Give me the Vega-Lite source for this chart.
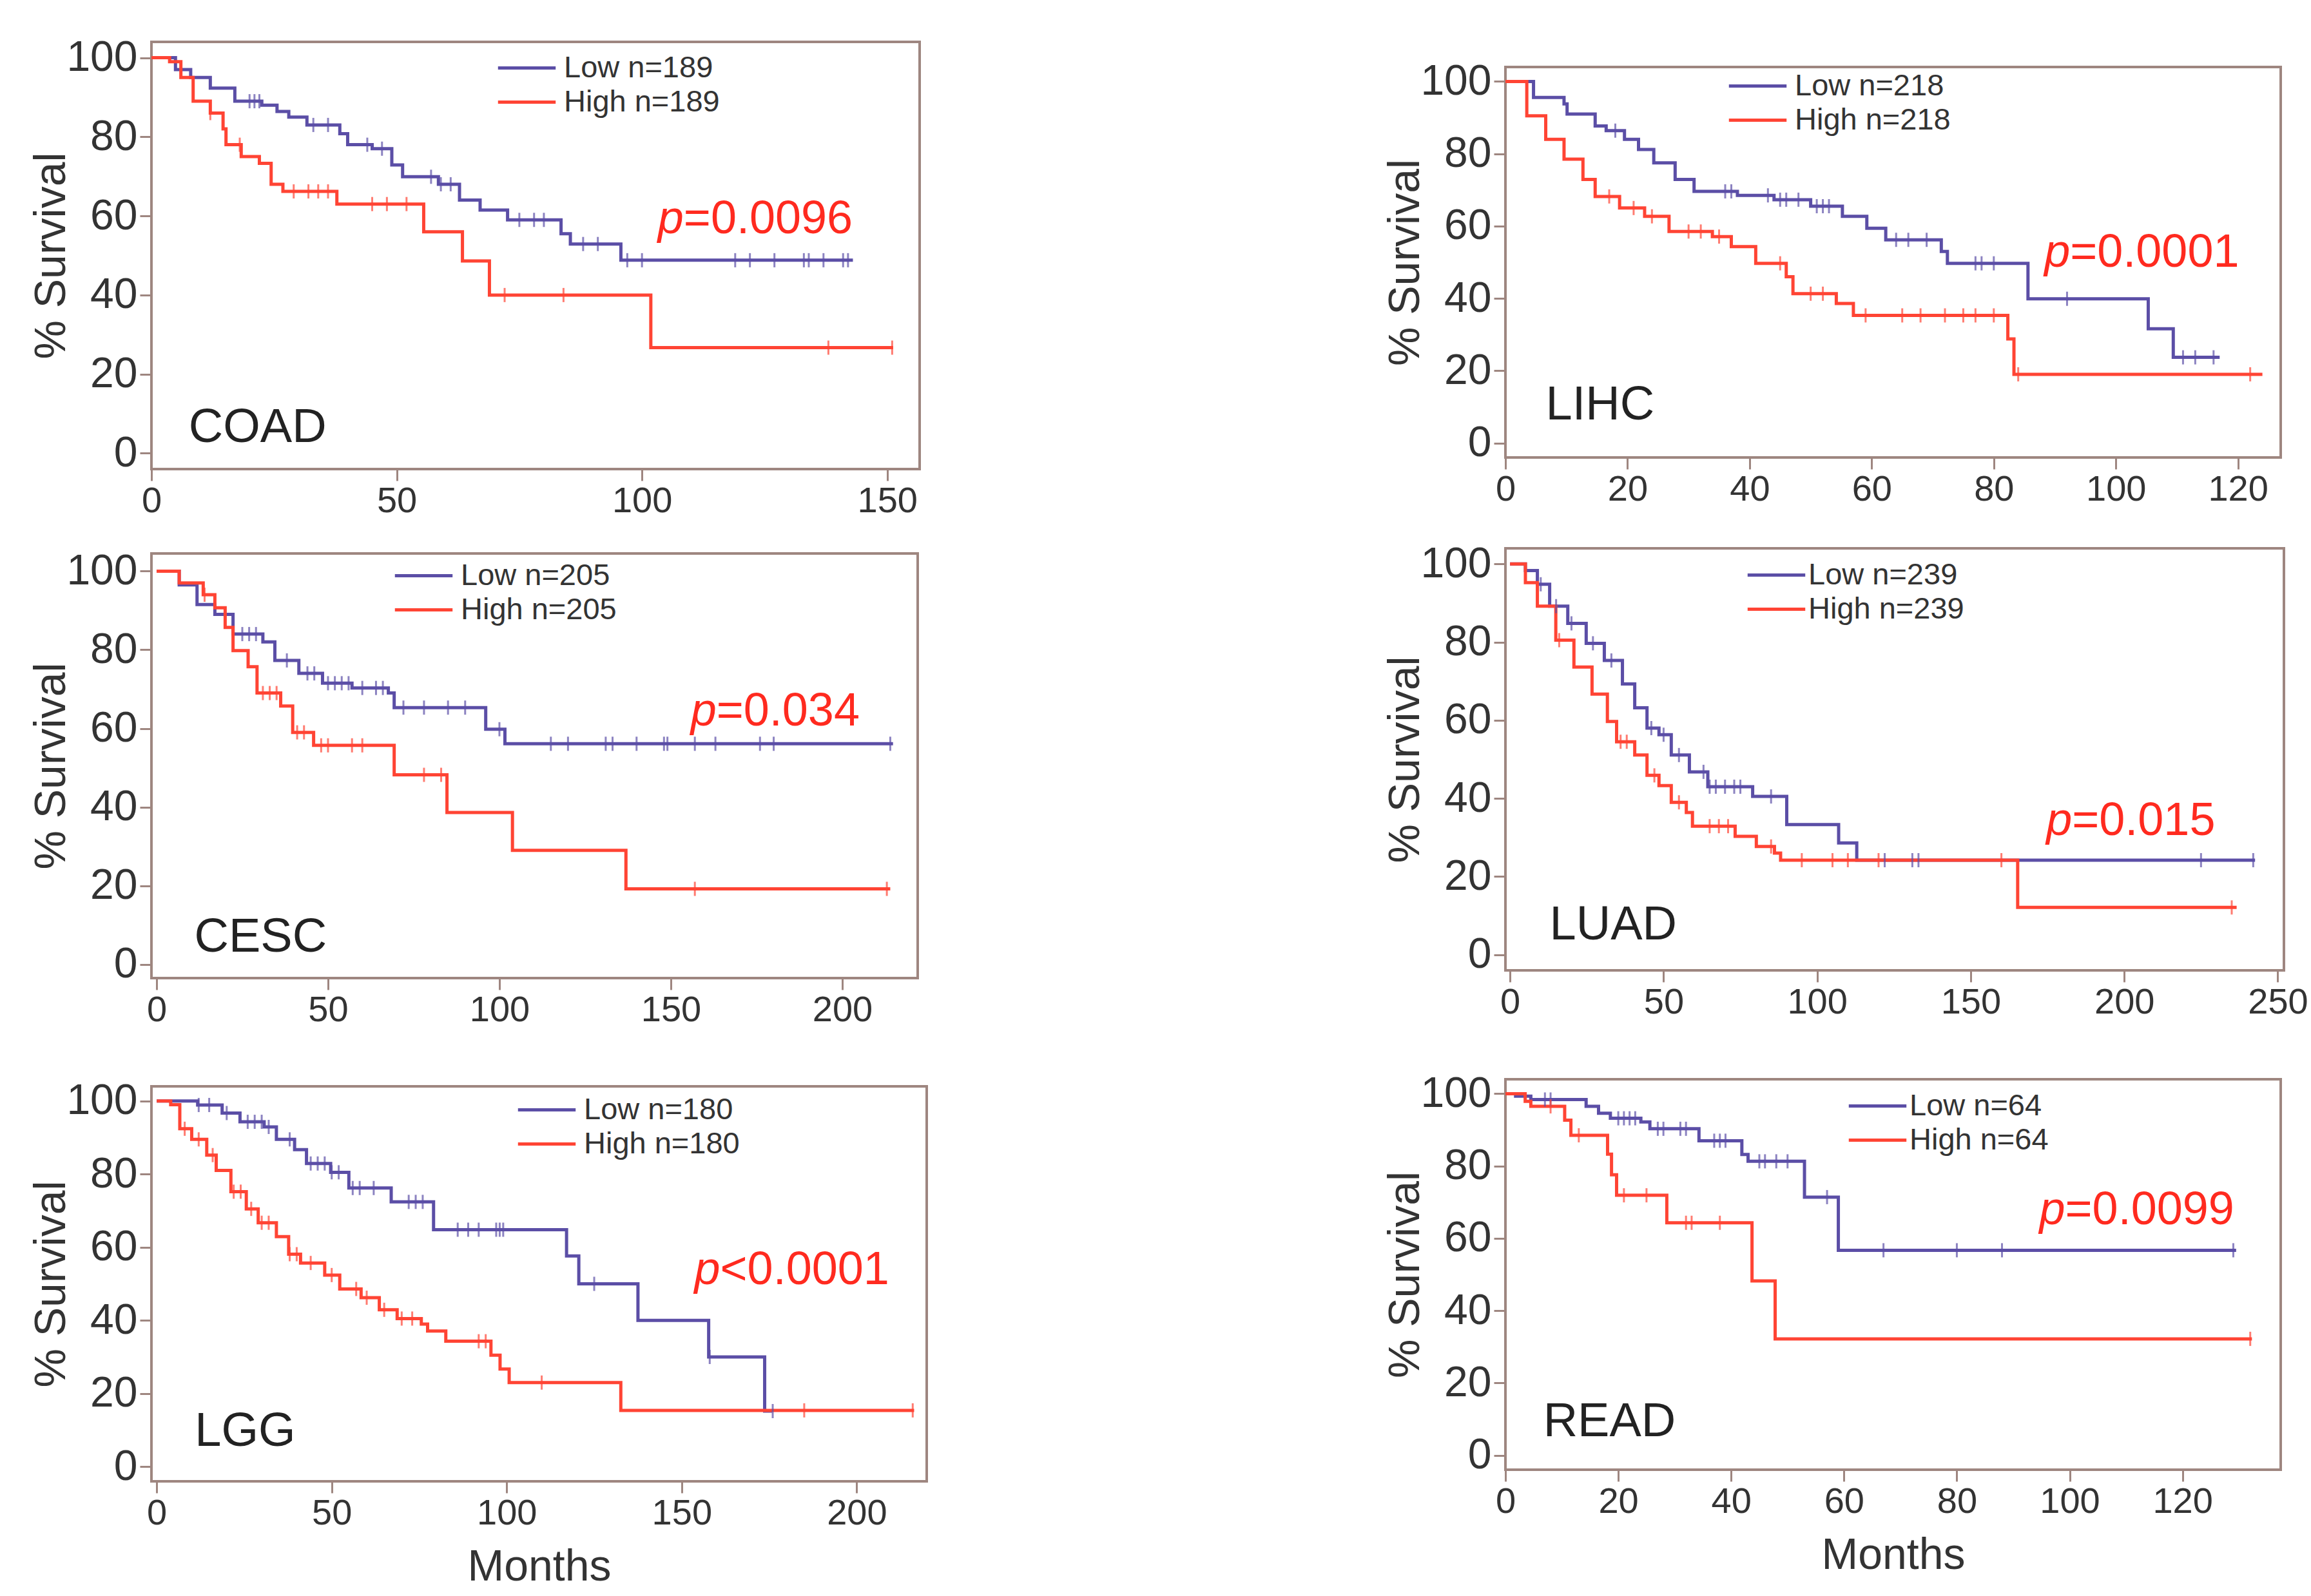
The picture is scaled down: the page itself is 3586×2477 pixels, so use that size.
{
  "$schema": "https://vega.github.io/schema/vega-lite/v6.json",
  "background": "white",
  "padding": {"left": 44, "top": 54, "right": 0, "bottom": 0},
  "config": {
    "view": {"stroke": "#9e8680", "strokeWidth": 4},
    "axis": {"grid": false, "domain": false, "tickColor": "#9e8680", "tickWidth": 3, "tickSize": 18, "labelColor": "#333333", "titleColor": "#333333", "titleFont": "Liberation Sans", "titleFontWeight": "normal", "titleFontSize": 68},
    "axisX": {"labelFont": "Liberation Sans", "labelFontSize": 56, "labelFlush": false, "labelOverlap": false, "labelPadding": 4, "titlePadding": 22},
    "axisY": {"labelFont": "Liberation Sans", "labelFontSize": 66, "labelPadding": 4, "titlePadding": -12},
    "legend": {"orient": "none", "symbolType": "stroke", "symbolStrokeWidth": 4, "symbolSize": 8000, "labelFont": "Liberation Sans", "labelFontSize": 47, "labelLimit": 0, "labelColor": "#333333", "rowPadding": 0, "clipHeight": 53, "labelOffset": 10},
    "line": {"strokeWidth": 5},
    "text": {"font": "Liberation Sans"}
  },
  "datasets": {
    "km": [
      {"p":"COAD","g":"Low","t":0,"s":100},{"p":"COAD","g":"Low","t":4.9,"s":97},{"p":"COAD","g":"Low","t":8,"s":95},{"p":"COAD","g":"Low","t":12,"s":92.3},{"p":"COAD","g":"Low","t":17,"s":89},{"p":"COAD","g":"Low","t":22.5,"s":88},{"p":"COAD","g":"Low","t":25.6,"s":86.4},{"p":"COAD","g":"Low","t":28,"s":85},{"p":"COAD","g":"Low","t":31.7,"s":83},{"p":"COAD","g":"Low","t":38.4,"s":80.8},{"p":"COAD","g":"Low","t":40,"s":78},{"p":"COAD","g":"Low","t":45,"s":77},{"p":"COAD","g":"Low","t":49,"s":72.9},{"p":"COAD","g":"Low","t":51.2,"s":69.9},{"p":"COAD","g":"Low","t":58.5,"s":68},{"p":"COAD","g":"Low","t":62.8,"s":64},{"p":"COAD","g":"Low","t":67,"s":61.5},{"p":"COAD","g":"Low","t":72.6,"s":59},{"p":"COAD","g":"Low","t":83.5,"s":55.5},{"p":"COAD","g":"Low","t":85.4,"s":52.9},{"p":"COAD","g":"Low","t":95.7,"s":48.8},{"p":"COAD","g":"Low","t":143,"s":48.8},
      {"p":"COAD","g":"High","t":0,"s":100},{"p":"COAD","g":"High","t":3.7,"s":99},{"p":"COAD","g":"High","t":6,"s":95},{"p":"COAD","g":"High","t":8.5,"s":89},{"p":"COAD","g":"High","t":12,"s":86},{"p":"COAD","g":"High","t":14.6,"s":82},{"p":"COAD","g":"High","t":15.2,"s":78},{"p":"COAD","g":"High","t":18.3,"s":75},{"p":"COAD","g":"High","t":22,"s":73.3},{"p":"COAD","g":"High","t":24.4,"s":68},{"p":"COAD","g":"High","t":26.8,"s":66.2},{"p":"COAD","g":"High","t":37.8,"s":63},{"p":"COAD","g":"High","t":55.5,"s":56},{"p":"COAD","g":"High","t":63.4,"s":48.6},{"p":"COAD","g":"High","t":68.9,"s":40},{"p":"COAD","g":"High","t":101.8,"s":26.7},{"p":"COAD","g":"High","t":151.2,"s":26.7},
      {"p":"LIHC","g":"Low","t":0,"s":100},{"p":"LIHC","g":"Low","t":4.6,"s":95.6},{"p":"LIHC","g":"Low","t":9.6,"s":93.8},{"p":"LIHC","g":"Low","t":10.1,"s":91},{"p":"LIHC","g":"Low","t":14.7,"s":87.7},{"p":"LIHC","g":"Low","t":16.5,"s":86.4},{"p":"LIHC","g":"Low","t":19.5,"s":84},{"p":"LIHC","g":"Low","t":21.8,"s":81.2},{"p":"LIHC","g":"Low","t":24.3,"s":77.5},{"p":"LIHC","g":"Low","t":27.8,"s":72.9},{"p":"LIHC","g":"Low","t":30.9,"s":69.6},{"p":"LIHC","g":"Low","t":38,"s":68.5},{"p":"LIHC","g":"Low","t":44,"s":67.3},{"p":"LIHC","g":"Low","t":50,"s":65.5},{"p":"LIHC","g":"Low","t":55.2,"s":62.7},{"p":"LIHC","g":"Low","t":59.2,"s":59.4},{"p":"LIHC","g":"Low","t":62.3,"s":56.2},{"p":"LIHC","g":"Low","t":71.4,"s":53},{"p":"LIHC","g":"Low","t":72.4,"s":49.7},{"p":"LIHC","g":"Low","t":85.6,"s":39.9},{"p":"LIHC","g":"Low","t":105.3,"s":31.6},{"p":"LIHC","g":"Low","t":109.4,"s":23.7},{"p":"LIHC","g":"Low","t":117,"s":23.7},
      {"p":"LIHC","g":"High","t":0,"s":100},{"p":"LIHC","g":"High","t":3.5,"s":90.5},{"p":"LIHC","g":"High","t":6.6,"s":84},{"p":"LIHC","g":"High","t":9.6,"s":78.5},{"p":"LIHC","g":"High","t":12.7,"s":72.9},{"p":"LIHC","g":"High","t":14.7,"s":68.2},{"p":"LIHC","g":"High","t":18.7,"s":65},{"p":"LIHC","g":"High","t":22.8,"s":62.7},{"p":"LIHC","g":"High","t":26.8,"s":58.5},{"p":"LIHC","g":"High","t":33.9,"s":57.1},{"p":"LIHC","g":"High","t":37,"s":54.3},{"p":"LIHC","g":"High","t":41,"s":49.7},{"p":"LIHC","g":"High","t":46,"s":46},{"p":"LIHC","g":"High","t":47.1,"s":41.3},{"p":"LIHC","g":"High","t":54.2,"s":38.6},{"p":"LIHC","g":"High","t":57,"s":35.3},{"p":"LIHC","g":"High","t":82.3,"s":28.8},{"p":"LIHC","g":"High","t":83.3,"s":19},{"p":"LIHC","g":"High","t":124,"s":19},
      {"p":"CESC","g":"Low","t":0,"s":100},{"p":"CESC","g":"Low","t":6.6,"s":96.5},{"p":"CESC","g":"Low","t":11.8,"s":91.5},{"p":"CESC","g":"Low","t":17,"s":89},{"p":"CESC","g":"Low","t":22.3,"s":84},{"p":"CESC","g":"Low","t":31,"s":82},{"p":"CESC","g":"Low","t":34.5,"s":77.3},{"p":"CESC","g":"Low","t":41.5,"s":74},{"p":"CESC","g":"Low","t":48.4,"s":71.5},{"p":"CESC","g":"Low","t":57,"s":70.3},{"p":"CESC","g":"Low","t":67.6,"s":69},{"p":"CESC","g":"Low","t":69.3,"s":65.3},{"p":"CESC","g":"Low","t":96,"s":59.8},{"p":"CESC","g":"Low","t":101.6,"s":56.1},{"p":"CESC","g":"Low","t":214.8,"s":56.1},
      {"p":"CESC","g":"High","t":0,"s":100},{"p":"CESC","g":"High","t":6.6,"s":97},{"p":"CESC","g":"High","t":13.6,"s":94},{"p":"CESC","g":"High","t":17,"s":90.7},{"p":"CESC","g":"High","t":20,"s":85.7},{"p":"CESC","g":"High","t":22.3,"s":79.8},{"p":"CESC","g":"High","t":26.7,"s":75.7},{"p":"CESC","g":"High","t":29.3,"s":69},{"p":"CESC","g":"High","t":36.2,"s":65.7},{"p":"CESC","g":"High","t":39.7,"s":59},{"p":"CESC","g":"High","t":45.8,"s":55.7},{"p":"CESC","g":"High","t":69.3,"s":48.2},{"p":"CESC","g":"High","t":84.7,"s":38.6},{"p":"CESC","g":"High","t":103.8,"s":29},{"p":"CESC","g":"High","t":136.9,"s":19.2},{"p":"CESC","g":"High","t":214,"s":19.2},
      {"p":"LUAD","g":"Low","t":0,"s":100},{"p":"LUAD","g":"Low","t":5,"s":98.3},{"p":"LUAD","g":"Low","t":8.9,"s":94.8},{"p":"LUAD","g":"Low","t":12.9,"s":89.2},{"p":"LUAD","g":"Low","t":18.8,"s":84.8},{"p":"LUAD","g":"Low","t":24.8,"s":79.7},{"p":"LUAD","g":"Low","t":30.7,"s":75.3},{"p":"LUAD","g":"Low","t":36.6,"s":69.3},{"p":"LUAD","g":"Low","t":40.6,"s":63.2},{"p":"LUAD","g":"Low","t":44.6,"s":58},{"p":"LUAD","g":"Low","t":48.5,"s":56.3},{"p":"LUAD","g":"Low","t":52.5,"s":51.1},{"p":"LUAD","g":"Low","t":58.4,"s":46.8},{"p":"LUAD","g":"Low","t":64.4,"s":43},{"p":"LUAD","g":"Low","t":79,"s":40.5},{"p":"LUAD","g":"Low","t":90.1,"s":33.3},{"p":"LUAD","g":"Low","t":107,"s":28.6},{"p":"LUAD","g":"Low","t":112.9,"s":24.2},{"p":"LUAD","g":"Low","t":242.6,"s":24.2},
      {"p":"LUAD","g":"High","t":0,"s":100},{"p":"LUAD","g":"High","t":5,"s":95.2},{"p":"LUAD","g":"High","t":8.9,"s":89.2},{"p":"LUAD","g":"High","t":14.9,"s":80.5},{"p":"LUAD","g":"High","t":20.8,"s":73.6},{"p":"LUAD","g":"High","t":26.7,"s":66.7},{"p":"LUAD","g":"High","t":31.7,"s":59.7},{"p":"LUAD","g":"High","t":34.7,"s":54.5},{"p":"LUAD","g":"High","t":40.6,"s":51.1},{"p":"LUAD","g":"High","t":44.6,"s":45.9},{"p":"LUAD","g":"High","t":48.5,"s":43.3},{"p":"LUAD","g":"High","t":52.5,"s":39},{"p":"LUAD","g":"High","t":57.4,"s":36.4},{"p":"LUAD","g":"High","t":59.4,"s":32.9},{"p":"LUAD","g":"High","t":73.3,"s":30.3},{"p":"LUAD","g":"High","t":80.2,"s":27.7},{"p":"LUAD","g":"High","t":86.1,"s":26},{"p":"LUAD","g":"High","t":88.1,"s":24.2},{"p":"LUAD","g":"High","t":165.3,"s":12.1},{"p":"LUAD","g":"High","t":236.6,"s":12.1},
      {"p":"LGG","g":"Low","t":0,"s":100},{"p":"LGG","g":"Low","t":11.7,"s":98.9},{"p":"LGG","g":"Low","t":18.7,"s":96.7},{"p":"LGG","g":"Low","t":23.8,"s":94.3},{"p":"LGG","g":"Low","t":30.7,"s":92.9},{"p":"LGG","g":"Low","t":34.2,"s":89.5},{"p":"LGG","g":"Low","t":39.4,"s":86.7},{"p":"LGG","g":"Low","t":42.8,"s":82.9},{"p":"LGG","g":"Low","t":49.7,"s":80.5},{"p":"LGG","g":"Low","t":54.9,"s":76.2},{"p":"LGG","g":"Low","t":67,"s":72.4},{"p":"LGG","g":"Low","t":79.1,"s":64.8},{"p":"LGG","g":"Low","t":117.1,"s":57.6},{"p":"LGG","g":"Low","t":120.6,"s":50},{"p":"LGG","g":"Low","t":137.5,"s":40},{"p":"LGG","g":"Low","t":157.7,"s":30},{"p":"LGG","g":"Low","t":173.7,"s":15.2},{"p":"LGG","g":"Low","t":175.8,"s":15.2},
      {"p":"LGG","g":"High","t":0,"s":100},{"p":"LGG","g":"High","t":4,"s":99},{"p":"LGG","g":"High","t":6.6,"s":92.4},{"p":"LGG","g":"High","t":10,"s":89.5},{"p":"LGG","g":"High","t":14.3,"s":85.2},{"p":"LGG","g":"High","t":17,"s":81},{"p":"LGG","g":"High","t":21.2,"s":75.2},{"p":"LGG","g":"High","t":25.6,"s":70.5},{"p":"LGG","g":"High","t":29,"s":66.7},{"p":"LGG","g":"High","t":34.2,"s":62.9},{"p":"LGG","g":"High","t":37.7,"s":58.1},{"p":"LGG","g":"High","t":41.1,"s":55.7},{"p":"LGG","g":"High","t":48,"s":52.4},{"p":"LGG","g":"High","t":52.3,"s":48.6},{"p":"LGG","g":"High","t":58.4,"s":46.2},{"p":"LGG","g":"High","t":63.6,"s":42.9},{"p":"LGG","g":"High","t":68.7,"s":40.5},{"p":"LGG","g":"High","t":75.6,"s":39},{"p":"LGG","g":"High","t":77.4,"s":37.1},{"p":"LGG","g":"High","t":82.6,"s":34.3},{"p":"LGG","g":"High","t":95.5,"s":30.5},{"p":"LGG","g":"High","t":98.1,"s":26.7},{"p":"LGG","g":"High","t":100.7,"s":23},{"p":"LGG","g":"High","t":132.6,"s":15.4},{"p":"LGG","g":"High","t":216.4,"s":15.4},
      {"p":"READ","g":"Low","t":0,"s":100},{"p":"READ","g":"Low","t":1.8,"s":99.3},{"p":"READ","g":"Low","t":4.5,"s":98.4},{"p":"READ","g":"Low","t":14.3,"s":96.5},{"p":"READ","g":"Low","t":16.5,"s":94.6},{"p":"READ","g":"Low","t":18.6,"s":93.2},{"p":"READ","g":"Low","t":24,"s":92.2},{"p":"READ","g":"Low","t":25.6,"s":90.3},{"p":"READ","g":"Low","t":34.3,"s":87},{"p":"READ","g":"Low","t":41.9,"s":83.2},{"p":"READ","g":"Low","t":43,"s":81.3},{"p":"READ","g":"Low","t":53,"s":71.4},{"p":"READ","g":"Low","t":59,"s":56.7},{"p":"READ","g":"Low","t":129.5,"s":56.7},
      {"p":"READ","g":"High","t":0,"s":100},{"p":"READ","g":"High","t":3.5,"s":97.9},{"p":"READ","g":"High","t":4.5,"s":96.5},{"p":"READ","g":"High","t":10.5,"s":92.7},{"p":"READ","g":"High","t":11.6,"s":88.5},{"p":"READ","g":"High","t":18.1,"s":83.3},{"p":"READ","g":"High","t":18.8,"s":77.6},{"p":"READ","g":"High","t":19.7,"s":71.9},{"p":"READ","g":"High","t":28.6,"s":64.3},{"p":"READ","g":"High","t":43.7,"s":48.2},{"p":"READ","g":"High","t":47.8,"s":32.2},{"p":"READ","g":"High","t":132.3,"s":32.2}
    ],
    "cz": [
      {"p":"COAD","g":"Low","t":20,"s":89},{"p":"COAD","g":"Low","t":21,"s":89},{"p":"COAD","g":"Low","t":22,"s":89},{"p":"COAD","g":"Low","t":33,"s":83},{"p":"COAD","g":"Low","t":36,"s":83},{"p":"COAD","g":"Low","t":44,"s":78},{"p":"COAD","g":"Low","t":47,"s":77},{"p":"COAD","g":"Low","t":57,"s":69.9},{"p":"COAD","g":"Low","t":59,"s":68},{"p":"COAD","g":"Low","t":61,"s":68},{"p":"COAD","g":"Low","t":75,"s":59},{"p":"COAD","g":"Low","t":78,"s":59},{"p":"COAD","g":"Low","t":80,"s":59},{"p":"COAD","g":"Low","t":88,"s":52.9},{"p":"COAD","g":"Low","t":91,"s":52.9},{"p":"COAD","g":"Low","t":97,"s":48.8},{"p":"COAD","g":"Low","t":100,"s":48.8},{"p":"COAD","g":"Low","t":119,"s":48.8},{"p":"COAD","g":"Low","t":122,"s":48.8},{"p":"COAD","g":"Low","t":127,"s":48.8},{"p":"COAD","g":"Low","t":133,"s":48.8},{"p":"COAD","g":"Low","t":134,"s":48.8},{"p":"COAD","g":"Low","t":137,"s":48.8},{"p":"COAD","g":"Low","t":141,"s":48.8},{"p":"COAD","g":"Low","t":142,"s":48.8},
      {"p":"COAD","g":"High","t":12,"s":86},{"p":"COAD","g":"High","t":18,"s":78},{"p":"COAD","g":"High","t":29,"s":66.2},{"p":"COAD","g":"High","t":32,"s":66.2},{"p":"COAD","g":"High","t":34,"s":66.2},{"p":"COAD","g":"High","t":36,"s":66.2},{"p":"COAD","g":"High","t":45,"s":63},{"p":"COAD","g":"High","t":48,"s":63},{"p":"COAD","g":"High","t":52,"s":63},{"p":"COAD","g":"High","t":72,"s":40},{"p":"COAD","g":"High","t":84,"s":40},{"p":"COAD","g":"High","t":138,"s":26.7},{"p":"COAD","g":"High","t":151,"s":26.7},
      {"p":"LIHC","g":"Low","t":18,"s":86.4},{"p":"LIHC","g":"Low","t":36,"s":69.6},{"p":"LIHC","g":"Low","t":37,"s":69.6},{"p":"LIHC","g":"Low","t":43,"s":68.5},{"p":"LIHC","g":"Low","t":45,"s":67.3},{"p":"LIHC","g":"Low","t":46,"s":67.3},{"p":"LIHC","g":"Low","t":48,"s":67.3},{"p":"LIHC","g":"Low","t":51,"s":65.5},{"p":"LIHC","g":"Low","t":52,"s":65.5},{"p":"LIHC","g":"Low","t":53,"s":65.5},{"p":"LIHC","g":"Low","t":64,"s":56.2},{"p":"LIHC","g":"Low","t":66,"s":56.2},{"p":"LIHC","g":"Low","t":69,"s":56.2},{"p":"LIHC","g":"Low","t":77,"s":49.7},{"p":"LIHC","g":"Low","t":78,"s":49.7},{"p":"LIHC","g":"Low","t":80,"s":49.7},{"p":"LIHC","g":"Low","t":92,"s":39.9},{"p":"LIHC","g":"Low","t":111,"s":23.7},{"p":"LIHC","g":"Low","t":113,"s":23.7},{"p":"LIHC","g":"Low","t":116,"s":23.7},
      {"p":"LIHC","g":"High","t":17,"s":68.2},{"p":"LIHC","g":"High","t":21,"s":65},{"p":"LIHC","g":"High","t":24,"s":62.7},{"p":"LIHC","g":"High","t":30,"s":58.5},{"p":"LIHC","g":"High","t":32,"s":58.5},{"p":"LIHC","g":"High","t":35,"s":57.1},{"p":"LIHC","g":"High","t":45,"s":49.7},{"p":"LIHC","g":"High","t":50,"s":41.3},{"p":"LIHC","g":"High","t":52,"s":41.3},{"p":"LIHC","g":"High","t":59,"s":35.3},{"p":"LIHC","g":"High","t":65,"s":35.3},{"p":"LIHC","g":"High","t":68,"s":35.3},{"p":"LIHC","g":"High","t":72,"s":35.3},{"p":"LIHC","g":"High","t":75,"s":35.3},{"p":"LIHC","g":"High","t":77,"s":35.3},{"p":"LIHC","g":"High","t":80,"s":35.3},{"p":"LIHC","g":"High","t":84,"s":19},{"p":"LIHC","g":"High","t":122,"s":19},
      {"p":"CESC","g":"Low","t":25,"s":84},{"p":"CESC","g":"Low","t":27,"s":84},{"p":"CESC","g":"Low","t":29,"s":84},{"p":"CESC","g":"Low","t":38,"s":77.3},{"p":"CESC","g":"Low","t":44,"s":74},{"p":"CESC","g":"Low","t":46,"s":74},{"p":"CESC","g":"Low","t":50,"s":71.5},{"p":"CESC","g":"Low","t":52,"s":71.5},{"p":"CESC","g":"Low","t":54,"s":71.5},{"p":"CESC","g":"Low","t":56,"s":71.5},{"p":"CESC","g":"Low","t":60,"s":70.3},{"p":"CESC","g":"Low","t":64,"s":70.3},{"p":"CESC","g":"Low","t":66,"s":70.3},{"p":"CESC","g":"Low","t":72,"s":65.3},{"p":"CESC","g":"Low","t":78,"s":65.3},{"p":"CESC","g":"Low","t":85,"s":65.3},{"p":"CESC","g":"Low","t":90,"s":65.3},{"p":"CESC","g":"Low","t":100,"s":59.8},{"p":"CESC","g":"Low","t":115,"s":56.1},{"p":"CESC","g":"Low","t":120,"s":56.1},{"p":"CESC","g":"Low","t":131,"s":56.1},{"p":"CESC","g":"Low","t":133,"s":56.1},{"p":"CESC","g":"Low","t":140,"s":56.1},{"p":"CESC","g":"Low","t":148,"s":56.1},{"p":"CESC","g":"Low","t":149,"s":56.1},{"p":"CESC","g":"Low","t":157,"s":56.1},{"p":"CESC","g":"Low","t":163,"s":56.1},{"p":"CESC","g":"Low","t":176,"s":56.1},{"p":"CESC","g":"Low","t":180,"s":56.1},{"p":"CESC","g":"Low","t":214,"s":56.1},
      {"p":"CESC","g":"High","t":14,"s":94},{"p":"CESC","g":"High","t":31,"s":69},{"p":"CESC","g":"High","t":33,"s":69},{"p":"CESC","g":"High","t":35,"s":69},{"p":"CESC","g":"High","t":41,"s":59},{"p":"CESC","g":"High","t":43,"s":59},{"p":"CESC","g":"High","t":48,"s":55.7},{"p":"CESC","g":"High","t":50,"s":55.7},{"p":"CESC","g":"High","t":57,"s":55.7},{"p":"CESC","g":"High","t":60,"s":55.7},{"p":"CESC","g":"High","t":78,"s":48.2},{"p":"CESC","g":"High","t":83,"s":48.2},{"p":"CESC","g":"High","t":157,"s":19.2},{"p":"CESC","g":"High","t":213,"s":19.2},
      {"p":"LUAD","g":"Low","t":10,"s":94.8},{"p":"LUAD","g":"Low","t":15,"s":89.2},{"p":"LUAD","g":"Low","t":20,"s":84.8},{"p":"LUAD","g":"Low","t":27,"s":79.7},{"p":"LUAD","g":"Low","t":33,"s":75.3},{"p":"LUAD","g":"Low","t":46,"s":58},{"p":"LUAD","g":"Low","t":50,"s":56.3},{"p":"LUAD","g":"Low","t":55,"s":51.1},{"p":"LUAD","g":"Low","t":63,"s":46.8},{"p":"LUAD","g":"Low","t":65,"s":43},{"p":"LUAD","g":"Low","t":67,"s":43},{"p":"LUAD","g":"Low","t":70,"s":43},{"p":"LUAD","g":"Low","t":73,"s":43},{"p":"LUAD","g":"Low","t":75,"s":43},{"p":"LUAD","g":"Low","t":85,"s":40.5},{"p":"LUAD","g":"Low","t":122,"s":24.2},{"p":"LUAD","g":"Low","t":131,"s":24.2},{"p":"LUAD","g":"Low","t":133,"s":24.2},{"p":"LUAD","g":"Low","t":225,"s":24.2},{"p":"LUAD","g":"Low","t":242,"s":24.2},
      {"p":"LUAD","g":"High","t":16,"s":80.5},{"p":"LUAD","g":"High","t":36,"s":54.5},{"p":"LUAD","g":"High","t":38,"s":54.5},{"p":"LUAD","g":"High","t":47,"s":45.9},{"p":"LUAD","g":"High","t":55,"s":39},{"p":"LUAD","g":"High","t":65,"s":32.9},{"p":"LUAD","g":"High","t":68,"s":32.9},{"p":"LUAD","g":"High","t":71,"s":32.9},{"p":"LUAD","g":"High","t":85,"s":27.7},{"p":"LUAD","g":"High","t":95,"s":24.2},{"p":"LUAD","g":"High","t":105,"s":24.2},{"p":"LUAD","g":"High","t":110,"s":24.2},{"p":"LUAD","g":"High","t":120,"s":24.2},{"p":"LUAD","g":"High","t":160,"s":24.2},{"p":"LUAD","g":"High","t":235,"s":12.1},
      {"p":"LGG","g":"Low","t":12,"s":98.9},{"p":"LGG","g":"Low","t":15,"s":98.9},{"p":"LGG","g":"Low","t":20,"s":96.7},{"p":"LGG","g":"Low","t":26,"s":94.3},{"p":"LGG","g":"Low","t":28,"s":94.3},{"p":"LGG","g":"Low","t":30,"s":94.3},{"p":"LGG","g":"Low","t":32,"s":92.9},{"p":"LGG","g":"Low","t":38,"s":89.5},{"p":"LGG","g":"Low","t":44,"s":82.9},{"p":"LGG","g":"Low","t":46,"s":82.9},{"p":"LGG","g":"Low","t":48,"s":82.9},{"p":"LGG","g":"Low","t":50,"s":80.5},{"p":"LGG","g":"Low","t":52,"s":80.5},{"p":"LGG","g":"Low","t":56,"s":76.2},{"p":"LGG","g":"Low","t":58,"s":76.2},{"p":"LGG","g":"Low","t":62,"s":76.2},{"p":"LGG","g":"Low","t":72,"s":72.4},{"p":"LGG","g":"Low","t":74,"s":72.4},{"p":"LGG","g":"Low","t":76,"s":72.4},{"p":"LGG","g":"Low","t":86,"s":64.8},{"p":"LGG","g":"Low","t":89,"s":64.8},{"p":"LGG","g":"Low","t":92,"s":64.8},{"p":"LGG","g":"Low","t":97,"s":64.8},{"p":"LGG","g":"Low","t":98,"s":64.8},{"p":"LGG","g":"Low","t":99,"s":64.8},{"p":"LGG","g":"Low","t":125,"s":50},{"p":"LGG","g":"Low","t":158,"s":30},{"p":"LGG","g":"Low","t":176,"s":15.2},
      {"p":"LGG","g":"High","t":8,"s":92.4},{"p":"LGG","g":"High","t":12,"s":89.5},{"p":"LGG","g":"High","t":16,"s":85.2},{"p":"LGG","g":"High","t":22,"s":75.2},{"p":"LGG","g":"High","t":24,"s":75.2},{"p":"LGG","g":"High","t":27,"s":70.5},{"p":"LGG","g":"High","t":30,"s":66.7},{"p":"LGG","g":"High","t":32,"s":66.7},{"p":"LGG","g":"High","t":38,"s":58.1},{"p":"LGG","g":"High","t":40,"s":58.1},{"p":"LGG","g":"High","t":44,"s":55.7},{"p":"LGG","g":"High","t":50,"s":52.4},{"p":"LGG","g":"High","t":57,"s":48.6},{"p":"LGG","g":"High","t":60,"s":46.2},{"p":"LGG","g":"High","t":65,"s":42.9},{"p":"LGG","g":"High","t":70,"s":40.5},{"p":"LGG","g":"High","t":73,"s":40.5},{"p":"LGG","g":"High","t":92,"s":34.3},{"p":"LGG","g":"High","t":94,"s":34.3},{"p":"LGG","g":"High","t":110,"s":23},{"p":"LGG","g":"High","t":185,"s":15.4},{"p":"LGG","g":"High","t":216,"s":15.4},
      {"p":"READ","g":"Low","t":7,"s":98.4},{"p":"READ","g":"Low","t":8,"s":98.4},{"p":"READ","g":"Low","t":20,"s":93.2},{"p":"READ","g":"Low","t":21,"s":93.2},{"p":"READ","g":"Low","t":22,"s":93.2},{"p":"READ","g":"Low","t":23,"s":93.2},{"p":"READ","g":"Low","t":27,"s":90.3},{"p":"READ","g":"Low","t":28,"s":90.3},{"p":"READ","g":"Low","t":31,"s":90.3},{"p":"READ","g":"Low","t":32,"s":90.3},{"p":"READ","g":"Low","t":37,"s":87},{"p":"READ","g":"Low","t":38,"s":87},{"p":"READ","g":"Low","t":39,"s":87},{"p":"READ","g":"Low","t":45,"s":81.3},{"p":"READ","g":"Low","t":46,"s":81.3},{"p":"READ","g":"Low","t":48,"s":81.3},{"p":"READ","g":"Low","t":50,"s":81.3},{"p":"READ","g":"Low","t":57,"s":71.4},{"p":"READ","g":"Low","t":67,"s":56.7},{"p":"READ","g":"Low","t":80,"s":56.7},{"p":"READ","g":"Low","t":88,"s":56.7},{"p":"READ","g":"Low","t":129,"s":56.7},
      {"p":"READ","g":"High","t":8,"s":96.5},{"p":"READ","g":"High","t":13,"s":88.5},{"p":"READ","g":"High","t":21,"s":71.9},{"p":"READ","g":"High","t":25,"s":71.9},{"p":"READ","g":"High","t":32,"s":64.3},{"p":"READ","g":"High","t":33,"s":64.3},{"p":"READ","g":"High","t":38,"s":64.3},{"p":"READ","g":"High","t":132,"s":32.2}
    ]
  },
  "spacing": 705,
  "resolve": {"scale": {"color": "independent"}, "legend": {"color": "independent"}},
  "hconcat": [
    {
      "spacing": 76,
      "resolve": {"scale": {"color": "independent"}, "legend": {"color": "independent"}},
      "vconcat": [
        {
          "spacing": 44,
          "resolve": {"scale": {"color": "independent"}, "legend": {"color": "independent"}},
          "vconcat": [
            {
              "width": 1192, "height": 663,
              "layer": [
                {"data": {"name": "km"}, "transform": [{"filter": "datum.p == 'COAD'"}], "mark": {"type": "line", "interpolate": "step-after"},
                 "encoding": {
                   "x": {"field": "t", "type": "quantitative", "scale": {"domain": [0, 156.6], "nice": false, "zero": false}, "axis": {"values": [0, 50, 100, 150], "title": null}},
                   "y": {"field": "s", "type": "quantitative", "scale": {"domain": [-4, 104], "nice": false, "zero": false}, "axis": {"values": [0, 20, 40, 60, 80, 100], "title": "% Survival"}},
                   "color": {"field": "g", "type": "nominal", "scale": {"domain": ["Low", "High"], "range": ["#5b4ea6", "#ff4434"]}, "legend": {"title": null, "legendX": 535, "legendY": 14, "labelExpr": "datum.label + ' n=189'"}}
                 }},
                {"data": {"name": "cz"}, "transform": [{"filter": "datum.p == 'COAD'"}], "mark": {"type": "tick", "orient": "vertical", "size": 22, "thickness": 3},
                 "encoding": {"x": {"field": "t", "type": "quantitative"}, "y": {"field": "s", "type": "quantitative"}, "color": {"field": "g", "type": "nominal", "legend": null}}},
                {"data": {"values": [{}]}, "mark": {"type": "text", "align": "left", "baseline": "alphabetic", "fontSize": 74, "color": "#222222", "text": "COAD"},
                 "encoding": {"x": {"datum": 7.6, "type": "quantitative"}, "y": {"datum": 2.8, "type": "quantitative"}}},
                {"data": {"values": [{}]}, "mark": {"type": "text", "align": "right", "baseline": "alphabetic", "fontSize": 72, "fontStyle": "italic", "color": "#ff2a1f", "text": "p"},
                 "encoding": {"x": {"datum": 108.5, "type": "quantitative"}, "y": {"datum": 55.7, "type": "quantitative"}}},
                {"data": {"values": [{}]}, "mark": {"type": "text", "align": "left", "baseline": "alphabetic", "fontSize": 72, "color": "#ff2a1f", "text": "=0.0096"},
                 "encoding": {"x": {"datum": 108.5, "type": "quantitative"}, "y": {"datum": 55.7, "type": "quantitative"}}}
              ]
            },
            {
              "width": 1189, "height": 659,
              "layer": [
                {"data": {"name": "km"}, "transform": [{"filter": "datum.p == 'CESC'"}], "mark": {"type": "line", "interpolate": "step-after"},
                 "encoding": {
                   "x": {"field": "t", "type": "quantitative", "scale": {"domain": [-1.5, 222], "nice": false, "zero": false}, "axis": {"values": [0, 50, 100, 150, 200], "title": null}},
                   "y": {"field": "s", "type": "quantitative", "scale": {"domain": [-3.5, 104.5], "nice": false, "zero": false}, "axis": {"values": [0, 20, 40, 60, 80, 100], "title": "% Survival", "labelOpacity": {"condition": {"test": "datum.value == 100", "value": 0}, "value": 1}}},
                   "color": {"field": "g", "type": "nominal", "scale": {"domain": ["Low", "High"], "range": ["#5b4ea6", "#ff4434"]}, "legend": {"title": null, "legendX": 375, "legendY": 8, "labelExpr": "datum.label + ' n=205'"}}
                 }},
                {"data": {"name": "cz"}, "transform": [{"filter": "datum.p == 'CESC'"}], "mark": {"type": "tick", "orient": "vertical", "size": 22, "thickness": 3},
                 "encoding": {"x": {"field": "t", "type": "quantitative"}, "y": {"field": "s", "type": "quantitative"}, "color": {"field": "g", "type": "nominal", "legend": null}}},
                {"data": {"values": [{}]}, "mark": {"type": "text", "align": "left", "baseline": "alphabetic", "fontSize": 74, "color": "#222222", "text": "CESC"},
                 "encoding": {"x": {"datum": 11, "type": "quantitative"}, "y": {"datum": 3.2, "type": "quantitative"}}},
                {"data": {"values": [{}]}, "mark": {"type": "text", "align": "right", "baseline": "alphabetic", "fontSize": 72, "fontStyle": "italic", "color": "#ff2a1f", "text": "p"},
                 "encoding": {"x": {"datum": 163.3, "type": "quantitative"}, "y": {"datum": 60.7, "type": "quantitative"}}},
                {"data": {"values": [{}]}, "mark": {"type": "text", "align": "left", "baseline": "alphabetic", "fontSize": 72, "color": "#ff2a1f", "text": "=0.034"},
                 "encoding": {"x": {"datum": 163.3, "type": "quantitative"}, "y": {"datum": 60.7, "type": "quantitative"}}}
              ]
            }
          ]
        },
        {
          "width": 1203, "height": 613,
          "layer": [
            {"data": {"name": "km"}, "transform": [{"filter": "datum.p == 'LGG'"}], "mark": {"type": "line", "interpolate": "step-after"},
             "encoding": {
               "x": {"field": "t", "type": "quantitative", "scale": {"domain": [-1.5, 220], "nice": false, "zero": false}, "axis": {"values": [0, 50, 100, 150, 200], "title": "Months"}},
               "y": {"field": "s", "type": "quantitative", "scale": {"domain": [-4, 104], "nice": false, "zero": false}, "axis": {"values": [0, 20, 40, 60, 80, 100], "title": "% Survival"}},
               "color": {"field": "g", "type": "nominal", "scale": {"domain": ["Low", "High"], "range": ["#5b4ea6", "#ff4434"]}, "legend": {"title": null, "legendX": 566, "legendY": 10, "labelExpr": "datum.label + ' n=180'"}}
             }},
            {"data": {"name": "cz"}, "transform": [{"filter": "datum.p == 'LGG'"}], "mark": {"type": "tick", "orient": "vertical", "size": 22, "thickness": 3},
             "encoding": {"x": {"field": "t", "type": "quantitative"}, "y": {"field": "s", "type": "quantitative"}, "color": {"field": "g", "type": "nominal", "legend": null}}},
            {"data": {"values": [{}]}, "mark": {"type": "text", "align": "left", "baseline": "alphabetic", "fontSize": 74, "color": "#222222", "text": "LGG"},
             "encoding": {"x": {"datum": 10.9, "type": "quantitative"}, "y": {"datum": 5.7, "type": "quantitative"}}},
            {"data": {"values": [{}]}, "mark": {"type": "text", "align": "right", "baseline": "alphabetic", "fontSize": 72, "fontStyle": "italic", "color": "#ff2a1f", "text": "p"},
             "encoding": {"x": {"datum": 161, "type": "quantitative"}, "y": {"datum": 50, "type": "quantitative"}}},
            {"data": {"values": [{}]}, "mark": {"type": "text", "align": "left", "baseline": "alphabetic", "fontSize": 72, "color": "#ff2a1f", "text": "<0.0001"},
             "encoding": {"x": {"datum": 161, "type": "quantitative"}, "y": {"datum": 50, "type": "quantitative"}}}
          ]
        }
      ]
    },
    {
      "spacing": 0,
      "resolve": {"scale": {"color": "independent"}, "legend": {"color": "independent"}},
      "vconcat": [
        {"width": 10, "height": 26, "data": {"values": [{}]}, "mark": {"type": "text", "text": ""}, "encoding": {}, "view": {"stroke": null}},
        {
          "spacing": 77,
          "resolve": {"scale": {"color": "independent"}, "legend": {"color": "independent"}},
          "vconcat": [
            {
              "spacing": 51,
              "resolve": {"scale": {"color": "independent"}, "legend": {"color": "independent"}},
              "vconcat": [
                {
                  "width": 1203, "height": 606,
                  "layer": [
                    {"data": {"name": "km"}, "transform": [{"filter": "datum.p == 'LIHC'"}], "mark": {"type": "line", "interpolate": "step-after"},
                     "encoding": {
                       "x": {"field": "t", "type": "quantitative", "scale": {"domain": [0, 127], "nice": false, "zero": false}, "axis": {"values": [0, 20, 40, 60, 80, 100, 120], "title": null}},
                       "y": {"field": "s", "type": "quantitative", "scale": {"domain": [-4, 104], "nice": false, "zero": false}, "axis": {"values": [0, 20, 40, 60, 80, 100], "title": "% Survival"}},
                       "color": {"field": "g", "type": "nominal", "scale": {"domain": ["Low", "High"], "range": ["#5b4ea6", "#ff4434"]}, "legend": {"title": null, "legendX": 344, "legendY": 3, "labelExpr": "datum.label + ' n=218'"}}
                     }},
                    {"data": {"name": "cz"}, "transform": [{"filter": "datum.p == 'LIHC'"}], "mark": {"type": "tick", "orient": "vertical", "size": 22, "thickness": 3},
                     "encoding": {"x": {"field": "t", "type": "quantitative"}, "y": {"field": "s", "type": "quantitative"}, "color": {"field": "g", "type": "nominal", "legend": null}}},
                    {"data": {"values": [{}]}, "mark": {"type": "text", "align": "left", "baseline": "alphabetic", "fontSize": 74, "color": "#222222", "text": "LIHC"},
                     "encoding": {"x": {"datum": 6.6, "type": "quantitative"}, "y": {"datum": 6.5, "type": "quantitative"}}},
                    {"data": {"values": [{}]}, "mark": {"type": "text", "align": "right", "baseline": "alphabetic", "fontSize": 72, "fontStyle": "italic", "color": "#ff2a1f", "text": "p"},
                     "encoding": {"x": {"datum": 92.5, "type": "quantitative"}, "y": {"datum": 48.7, "type": "quantitative"}}},
                    {"data": {"values": [{}]}, "mark": {"type": "text", "align": "left", "baseline": "alphabetic", "fontSize": 72, "color": "#ff2a1f", "text": "=0.0001"},
                     "encoding": {"x": {"datum": 92.5, "type": "quantitative"}, "y": {"datum": 48.7, "type": "quantitative"}}}
                  ]
                },
                {
                  "width": 1208, "height": 655,
                  "layer": [
                    {"data": {"name": "km"}, "transform": [{"filter": "datum.p == 'LUAD'"}], "mark": {"type": "line", "interpolate": "step-after"},
                     "encoding": {
                       "x": {"field": "t", "type": "quantitative", "scale": {"domain": [-1.5, 252], "nice": false, "zero": false}, "axis": {"values": [0, 50, 100, 150, 200, 250], "title": null}},
                       "y": {"field": "s", "type": "quantitative", "scale": {"domain": [-4, 104], "nice": false, "zero": false}, "axis": {"values": [0, 20, 40, 60, 80, 100], "title": "% Survival"}},
                       "color": {"field": "g", "type": "nominal", "scale": {"domain": ["Low", "High"], "range": ["#5b4ea6", "#ff4434"]}, "legend": {"title": null, "legendX": 373, "legendY": 15, "labelOffset": 2, "labelExpr": "datum.label + ' n=239'"}}
                     }},
                    {"data": {"name": "cz"}, "transform": [{"filter": "datum.p == 'LUAD'"}], "mark": {"type": "tick", "orient": "vertical", "size": 22, "thickness": 3},
                     "encoding": {"x": {"field": "t", "type": "quantitative"}, "y": {"field": "s", "type": "quantitative"}, "color": {"field": "g", "type": "nominal", "legend": null}}},
                    {"data": {"values": [{}]}, "mark": {"type": "text", "align": "left", "baseline": "alphabetic", "fontSize": 74, "color": "#222222", "text": "LUAD"},
                     "encoding": {"x": {"datum": 12.9, "type": "quantitative"}, "y": {"datum": 3.9, "type": "quantitative"}}},
                    {"data": {"values": [{}]}, "mark": {"type": "text", "align": "right", "baseline": "alphabetic", "fontSize": 72, "fontStyle": "italic", "color": "#ff2a1f", "text": "p"},
                     "encoding": {"x": {"datum": 183, "type": "quantitative"}, "y": {"datum": 30.7, "type": "quantitative"}}},
                    {"data": {"values": [{}]}, "mark": {"type": "text", "align": "left", "baseline": "alphabetic", "fontSize": 72, "color": "#ff2a1f", "text": "=0.015"},
                     "encoding": {"x": {"datum": 183, "type": "quantitative"}, "y": {"datum": 30.7, "type": "quantitative"}}}
                  ]
                }
              ]
            },
            {
              "width": 1203, "height": 606,
              "layer": [
                {"data": {"name": "km"}, "transform": [{"filter": "datum.p == 'READ'"}], "mark": {"type": "line", "interpolate": "step-after"},
                 "encoding": {
                   "x": {"field": "t", "type": "quantitative", "scale": {"domain": [0, 137.4], "nice": false, "zero": false}, "axis": {"values": [0, 20, 40, 60, 80, 100, 120], "title": "Months"}},
                   "y": {"field": "s", "type": "quantitative", "scale": {"domain": [-4, 104], "nice": false, "zero": false}, "axis": {"values": [0, 20, 40, 60, 80, 100], "title": "% Survival"}},
                   "color": {"field": "g", "type": "nominal", "scale": {"domain": ["Low", "High"], "range": ["#5b4ea6", "#ff4434"]}, "legend": {"title": null, "legendX": 530, "legendY": 15, "labelOffset": 2, "labelExpr": "datum.label + ' n=64'"}}
                 }},
                {"data": {"name": "cz"}, "transform": [{"filter": "datum.p == 'READ'"}], "mark": {"type": "tick", "orient": "vertical", "size": 22, "thickness": 3},
                 "encoding": {"x": {"field": "t", "type": "quantitative"}, "y": {"field": "s", "type": "quantitative"}, "color": {"field": "g", "type": "nominal", "legend": null}}},
                {"data": {"values": [{}]}, "mark": {"type": "text", "align": "left", "baseline": "alphabetic", "fontSize": 74, "color": "#222222", "text": "READ"},
                 "encoding": {"x": {"datum": 6.7, "type": "quantitative"}, "y": {"datum": 5.2, "type": "quantitative"}}},
                {"data": {"values": [{}]}, "mark": {"type": "text", "align": "right", "baseline": "alphabetic", "fontSize": 72, "fontStyle": "italic", "color": "#ff2a1f", "text": "p"},
                 "encoding": {"x": {"datum": 99.2, "type": "quantitative"}, "y": {"datum": 63.9, "type": "quantitative"}}},
                {"data": {"values": [{}]}, "mark": {"type": "text", "align": "left", "baseline": "alphabetic", "fontSize": 72, "color": "#ff2a1f", "text": "=0.0099"},
                 "encoding": {"x": {"datum": 99.2, "type": "quantitative"}, "y": {"datum": 63.9, "type": "quantitative"}}}
              ]
            }
          ]
        }
      ]
    }
  ]
}
